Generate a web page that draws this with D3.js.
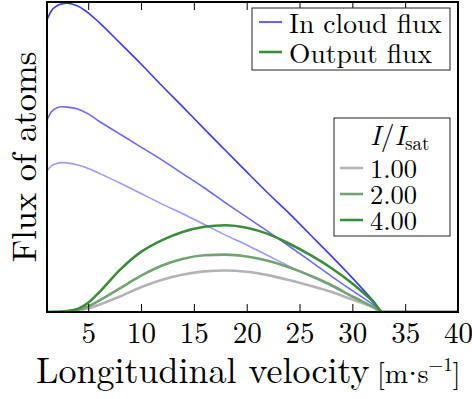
<!DOCTYPE html>
<html><head><meta charset="utf-8">
<script src="https://cdn.jsdelivr.net/npm/d3@7"></script>
<style>
body{margin:0;background:#fff}
svg{display:block}
</style>
</head><body>
<svg id="c" width="472" height="399"></svg>
<script>
// ---- data ----
const velocity = [1.1,1.5,2,2.5,3,4,5,6,8,10,12,14,16,18,20,22,24,26,28,30,32,32.9,35,40];
const intensities = ["1.00","2.00","4.00"];
const cloudFlux1 = [0.455,0.471,0.479,0.482,0.481,0.474,0.463,0.448,0.416,0.382,0.348,0.316,0.282,0.248,0.216,0.182,0.148,0.116,0.084,0.050,0.016,0,0,0];
const cloudFlux2 = [0.619,0.645,0.658,0.662,0.661,0.655,0.639,0.616,0.574,0.532,0.490,0.445,0.400,0.352,0.306,0.260,0.213,0.165,0.116,0.069,0.023,0,0,0];
const cloudFlux4 = [0.942,0.971,0.987,0.994,0.996,0.987,0.965,0.935,0.868,0.800,0.729,0.660,0.590,0.521,0.452,0.384,0.319,0.250,0.181,0.110,0.035,0,0,0];
const outFlux1 = [0,0,0,0.0005,0.0015,0.005,0.012,0.023,0.050,0.080,0.104,0.121,0.131,0.134,0.130,0.119,0.103,0.085,0.065,0.040,0.015,0,0,0];
const outFlux2 = [0,0,0,0.0008,0.002,0.007,0.018,0.036,0.076,0.117,0.150,0.172,0.183,0.185,0.179,0.165,0.144,0.118,0.087,0.050,0.016,0,0,0];
const outFlux4 = [0,0,0.0005,0.0015,0.003,0.010,0.030,0.062,0.136,0.194,0.232,0.259,0.275,0.280,0.272,0.252,0.221,0.184,0.142,0.092,0.032,0,0,0];
const xTicks = [5,10,15,20,25,30,35,40];
const seriesLabels = ["In cloud flux","Output flux"];

// ---- drawing ----
const FONT = '"Latin Modern Roman", "Liberation Serif", monospace';
const svg = d3.select("#c");
const m = {l:47, r:458, t:2, b:312};
const x = d3.scaleLinear().domain([1.1,40]).range([m.l,m.r]);
const y = d3.scaleLinear().domain([0,1]).range([m.b,m.t]);

const cloudColors = ["#9a9aff","#6a6aff","#3b3bf5"];
const outColors = ["#b3b3b3","#70a470","#3a8e3a"];

svg.append("defs").append("clipPath").attr("id","clip")
  .append("rect").attr("x",m.l).attr("y",m.t).attr("width",m.r-m.l).attr("height",m.b-m.t);

const line = d3.line()
  .x((d,i)=>x(velocity[i]))
  .y(d=>y(d))
  .curve(d3.curveMonotoneX);

const plot = svg.append("g").attr("clip-path","url(#clip)");
[cloudFlux1,cloudFlux2,cloudFlux4].forEach((s,i)=>{
  plot.append("path").attr("d",line(s)).attr("fill","none")
    .attr("stroke",cloudColors[i]).attr("stroke-width",1.6);
});
[outFlux1,outFlux2,outFlux4].forEach((s,i)=>{
  plot.append("path").attr("d",line(s)).attr("fill","none")
    .attr("stroke",outColors[i]).attr("stroke-width",2.6);
});

// axes (ticks inside, top and bottom)
const gx = svg.append("g").attr("transform",`translate(0,${m.b})`)
  .call(d3.axisBottom(x).tickValues(xTicks).tickSizeInner(-8).tickSizeOuter(0).tickPadding(10).tickFormat(d3.format("d")));
gx.select(".domain").remove();
gx.selectAll("line").attr("stroke","#000").attr("stroke-width",1);
gx.selectAll("text").style("font-family",FONT).style("font-size","29px").attr("fill","#000");

const gt = svg.append("g").attr("transform",`translate(0,${m.t})`)
  .call(d3.axisTop(x).tickValues(xTicks).tickSizeInner(-8).tickSizeOuter(0).tickFormat(()=>""));
gt.select(".domain").remove();
gt.selectAll("line").attr("stroke","#000").attr("stroke-width",1);

// frame
svg.append("rect").attr("x",m.l).attr("y",m.t).attr("width",m.r-m.l).attr("height",m.b-m.t)
  .attr("fill","none").attr("stroke","#000").attr("stroke-width",2);

function txt(sel, size){ return sel.style("font-family",FONT).style("font-size",size+"px"); }

// axis labels
txt(svg.append("text").attr("x",36).attr("y",383), 36).text("Longitudinal velocity");
txt(svg.append("text").attr("x",377).attr("y",383), 28)
  .call(t=>{
    t.append("tspan").text("[m");
    t.append("tspan").style("font-family",'"Liberation Serif", serif').text("·");
    t.append("tspan").text("s");
    t.append("tspan").attr("dy",-12).style("font-size","19px").text("−1");
    t.append("tspan").attr("dy",12).text("]");
  });

txt(svg.append("text").attr("transform","translate(36,157) rotate(-90)")
  .attr("text-anchor","middle"), 34.5).text("Flux of atoms");

// legend 1
const L1 = svg.append("g");
L1.append("rect").attr("x",252).attr("y",8).attr("width",198).attr("height",62)
  .attr("fill","#fff").attr("stroke","#222").attr("stroke-width",1);
[[cloudColors[2],1.6],[outColors[2],2.6]].forEach((c,i)=>{
  const yy = 22 + i*30;
  L1.append("line").attr("x1",259).attr("x2",282).attr("y1",yy).attr("y2",yy)
    .attr("stroke",c[0]).attr("stroke-width",c[1]);
  txt(L1.append("text").attr("x",289).attr("y",yy+11), 27.5).text(seriesLabels[i]);
});

// legend 2
const L2 = svg.append("g");
L2.append("rect").attr("x",334).attr("y",118).attr("width",116).attr("height",118)
  .attr("fill","#fff").attr("stroke","#222").attr("stroke-width",1);
const tt = txt(L2.append("text").attr("x",370).attr("y",145), 27.5);
tt.append("tspan").style("font-style","italic").text("I");
tt.append("tspan").text("/");
tt.append("tspan").style("font-style","italic").text("I");
tt.append("tspan").attr("dy",5).style("font-size","19px").text("sat");
intensities.forEach((lab,i)=>{
  const yy = 168 + i*26;
  L2.append("line").attr("x1",340).attr("x2",363).attr("y1",yy).attr("y2",yy)
    .attr("stroke",outColors[i]).attr("stroke-width",2.6);
  txt(L2.append("text").attr("x",370).attr("y",yy+10), 26.5).text(lab);
});
</script>
</body></html>
